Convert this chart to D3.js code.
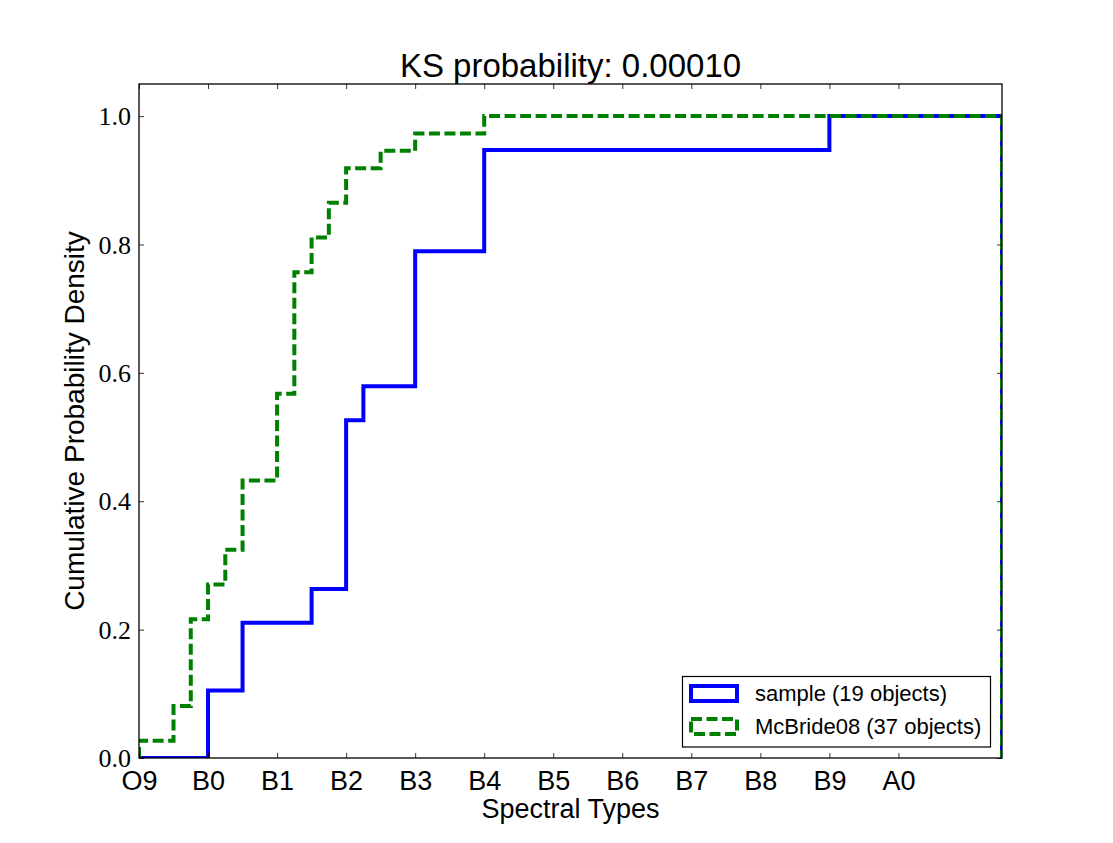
<!DOCTYPE html>
<html>
<head>
<meta charset="utf-8">
<script src="https://cdn.jsdelivr.net/npm/d3@7"></script>
<style>
  html, body { margin: 0; padding: 0; background: #fff; }
  svg { display: block; }
</style>
</head>
<body>
<svg id="chart" width="1113" height="843"></svg>
<script>
// ---- data ----
const spectralLabels = ["O9","B0","B1","B2","B3","B4","B5","B6","B7","B8","B9","A0"];
const yTicks = [0.0, 0.2, 0.4, 0.6, 0.8, 1.0];

// sample: step positions (spectral index, O9 = 0) and cumulative object counts
const sampleTotal = 19;
const sampleSteps = [1, 1.5, 2.5, 3, 3.25, 4, 5, 10];
const sampleCounts = [2, 4, 5, 10, 11, 15, 18, 19];

// McBride08
const mcbTotal = 37;
const mcbSteps = [0, 0.5, 0.75, 1, 1.25, 1.5, 2, 2.25, 2.5, 2.75, 3, 3.5, 4, 5];
const mcbCounts = [1, 3, 8, 10, 12, 16, 21, 28, 30, 32, 34, 35, 36, 37];

const titleText = "KS probability: 0.00010";
const xLabel = "Spectral Types";
const yLabel = "Cumulative Probability Density";
const legendLabels = ["sample (19 objects)", "McBride08 (37 objects)"];

// ---- layout ----
const svg = d3.select("#chart");
const L = 139, R = 1002, T = 84, B = 758;
const xDomain = [0, 12.5];
const x = d3.scaleLinear().domain(xDomain).range([L, R]);
const y = d3.scaleLinear().domain([0, 1.05]).range([B, T]);

const sansFont = "'Liberation Sans', Arial, Helvetica, sans-serif";
const serifFont = "'Liberation Serif', 'Times New Roman', serif";
const lw = 4;

// clip
svg.append("defs").append("clipPath").attr("id", "plotclip")
  .append("rect").attr("x", L).attr("y", T).attr("width", R - L).attr("height", B - T);

function buildPoints(steps, counts, total) {
  const pts = [[xDomain[0], 0]];
  steps.forEach((s, i) => pts.push([s, counts[i] / total]));
  pts.push([xDomain[1], counts[counts.length - 1] / total]);
  pts.push([xDomain[1], 0]);
  return pts;
}

const line = d3.line().x(d => x(d[0])).y(d => y(d[1])).curve(d3.curveStepAfter);

const gData = svg.append("g").attr("clip-path", "url(#plotclip)");
gData.append("path")
  .attr("d", line(buildPoints(sampleSteps, sampleCounts, sampleTotal)))
  .attr("fill", "none").attr("stroke", "#0000ff").attr("stroke-width", lw)
  .attr("stroke-linejoin", "miter");
gData.append("path")
  .attr("d", line(buildPoints(mcbSteps, mcbCounts, mcbTotal)))
  .attr("fill", "none").attr("stroke", "#008000").attr("stroke-width", lw)
  .attr("stroke-dasharray", "11,4.5").attr("stroke-linejoin", "miter");

// ---- axes ----
const tickLen = 5;
const xTickVals = spectralLabels.map((_, i) => i);

const xAxisB = d3.axisBottom(x).tickValues(xTickVals).tickSize(-tickLen).tickFormat((d, i) => spectralLabels[i]).tickPadding(10);
const gxb = svg.append("g").attr("transform", `translate(0,${B})`).call(xAxisB);
gxb.select(".domain").remove();
gxb.selectAll("line").attr("stroke", "#000").attr("stroke-width", 0.8);
gxb.selectAll("text").attr("font-family", sansFont).attr("font-size", 27).attr("fill", "#000")
  .attr("dy", null).attr("y", 32);

const xAxisT = d3.axisTop(x).tickValues(xTickVals).tickSize(-tickLen).tickFormat("");
const gxt = svg.append("g").attr("transform", `translate(0,${T})`).call(xAxisT);
gxt.select(".domain").remove();
gxt.selectAll("line").attr("stroke", "#000").attr("stroke-width", 0.8);

const yAxisL = d3.axisLeft(y).tickValues(yTicks).tickSize(-tickLen).tickFormat(d3.format(".1f")).tickPadding(8);
const gyl = svg.append("g").attr("transform", `translate(${L},0)`).call(yAxisL);
gyl.select(".domain").remove();
gyl.selectAll("line").attr("stroke", "#000").attr("stroke-width", 0.8);
gyl.selectAll("text").attr("font-family", serifFont).attr("font-size", 26).attr("fill", "#000")
  .attr("x", -8).attr("dy", "0.33em");

const yAxisR = d3.axisRight(y).tickValues(yTicks).tickSize(-tickLen).tickFormat("");
const gyr = svg.append("g").attr("transform", `translate(${R},0)`).call(yAxisR);
gyr.select(".domain").remove();
gyr.selectAll("line").attr("stroke", "#000").attr("stroke-width", 0.8);

// frame
svg.append("rect").attr("x", L).attr("y", T).attr("width", R - L).attr("height", B - T)
  .attr("fill", "none").attr("stroke", "#000").attr("stroke-width", 1.3);

// ---- titles ----
svg.append("text").attr("x", (L + R) / 2).attr("y", 77).attr("text-anchor", "middle")
  .attr("font-family", sansFont).attr("font-size", 33).attr("fill", "#000").text(titleText);
svg.append("text").attr("x", (L + R) / 2).attr("y", 818).attr("text-anchor", "middle")
  .attr("font-family", sansFont).attr("font-size", 27).attr("fill", "#000").text(xLabel);
svg.append("text").attr("transform", `translate(84,${(T + B) / 2}) rotate(-90)`).attr("text-anchor", "middle")
  .attr("font-family", sansFont).attr("font-size", 28).attr("fill", "#000").text(yLabel);

// ---- legend ----
const lg = svg.append("g");
lg.append("rect").attr("x", 682.5).attr("y", 676.5).attr("width", 308).attr("height", 70.5)
  .attr("fill", "#fff").attr("stroke", "#000").attr("stroke-width", 1.2);
const legendStyles = [
  { color: "#0000ff", dash: null },
  { color: "#008000", dash: "11,4.5" }
];
legendLabels.forEach((lab, i) => {
  const cy = 693.5 + i * 33;
  lg.append("rect").attr("x", 691).attr("y", cy - 7.5).attr("width", 46).attr("height", 15)
    .attr("fill", "none").attr("stroke", legendStyles[i].color).attr("stroke-width", lw)
    .attr("stroke-dasharray", legendStyles[i].dash);
  lg.append("text").attr("x", 755).attr("y", cy + 7.5)
    .attr("font-family", sansFont).attr("font-size", 22).attr("fill", "#000").text(lab);
});
</script>
</body>
</html>
